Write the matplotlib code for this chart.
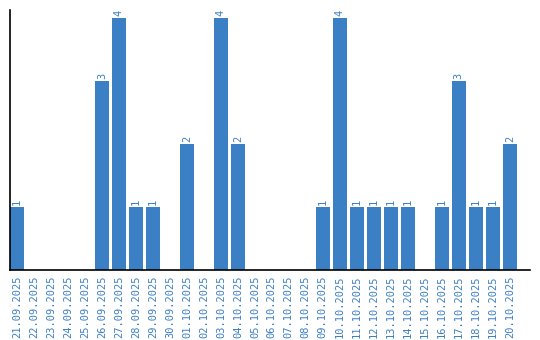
import matplotlib
matplotlib.use("Agg")
import matplotlib.pyplot as plt

dates = ["21.09.2025", "22.09.2025", "23.09.2025", "24.09.2025", "25.09.2025",
         "26.09.2025", "27.09.2025", "28.09.2025", "29.09.2025", "30.09.2025",
         "01.10.2025", "02.10.2025", "03.10.2025", "04.10.2025", "05.10.2025",
         "06.10.2025", "07.10.2025", "08.10.2025", "09.10.2025", "10.10.2025",
         "11.10.2025", "12.10.2025", "13.10.2025", "14.10.2025", "15.10.2025",
         "16.10.2025", "17.10.2025", "18.10.2025", "19.10.2025", "20.10.2025"]
counts = [1, 0, 0, 0, 0, 3, 4, 1, 1, 0,
          2, 0, 4, 2, 0, 0, 0, 0, 1, 4,
          1, 1, 1, 1, 0, 1, 3, 1, 1, 2]

color = "#3b7fc4"
fig = plt.figure(figsize=(5.4, 3.4), dpi=100)
ax = fig.add_axes([10/540, 70/340, 520/540, 260/340])
x = list(range(len(dates)))
ax.bar(x, counts, width=0.82, align="edge", color=color)
for xi, v in zip(x, counts):
    if v > 0:
        ax.text(xi + 0.41, v + 0.03, str(v), rotation=90, ha="center", va="bottom",
                color=color, fontsize=7.5, family="DejaVu Sans Mono")
ax.set_xlim(0, 30.6)
ax.set_ylim(0, 4.13)
ax.set_xticks([xi + 0.41 for xi in x])
ax.set_xticklabels(dates, rotation=90, color=color, fontsize=7.5, family="DejaVu Sans Mono")
ax.tick_params(axis="x", length=0, pad=4)
ax.set_yticks([])
for s in ["top", "right"]:
    ax.spines[s].set_visible(False)
for s in ["left", "bottom"]:
    ax.spines[s].set_linewidth(1.2)
fig.savefig("out.png", dpi=100)
